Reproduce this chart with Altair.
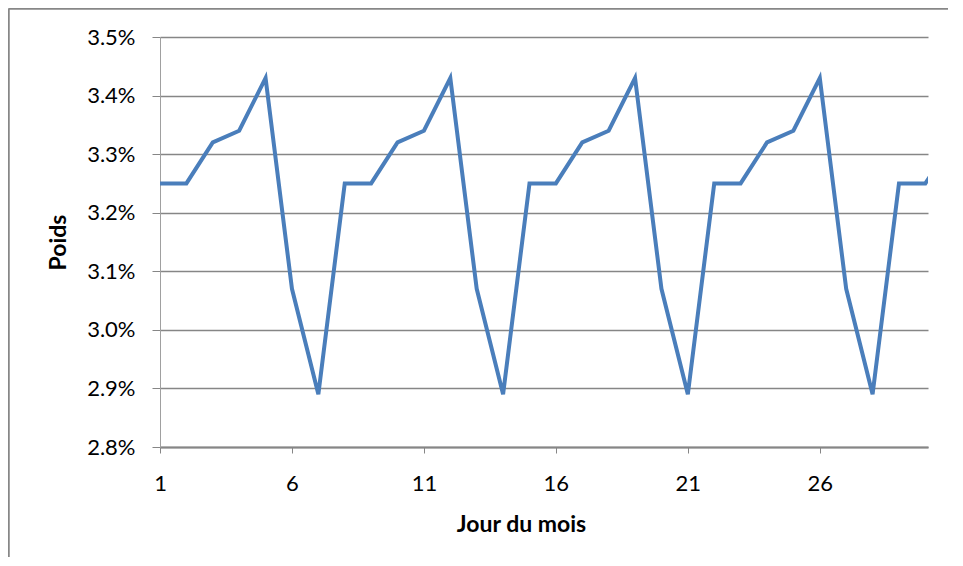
import altair as alt
import pandas as pd

days = list(range(1, 32))
poids = [3.25, 3.25, 3.32, 3.34, 3.43, 3.07, 2.89,
         3.25, 3.25, 3.32, 3.34, 3.43, 3.07, 2.89,
         3.25, 3.25, 3.32, 3.34, 3.43, 3.07, 2.89,
         3.25, 3.25, 3.32, 3.34, 3.43, 3.07, 2.89,
         3.25, 3.25, 3.32]
y_ticks = [2.8, 2.9, 3.0, 3.1, 3.2, 3.3, 3.4, 3.5]
x_ticks = [1, 6, 11, 16, 21, 26]

df = pd.DataFrame({"jour": days, "poids": [round(p / 100, 6) for p in poids]})
FONT = "Lato"
GRAY = "#868686"

line = alt.Chart(df).mark_line(color="#4a7ebb", strokeWidth=4, clip=True).encode(
    x=alt.X("jour:Q",
            scale=alt.Scale(domain=[1, 30.1], nice=False, zero=False),
            axis=alt.Axis(values=x_ticks, format="d", title="Jour du mois",
                          grid=False, domainColor=GRAY, domainWidth=2,
                          tickColor=GRAY, tickSize=6, tickWidth=1,
                          labelFont=FONT, labelFontSize=22, labelColor="#000000",
                          labelBaseline="middle", labelPadding=30,
                          labelFlush=False,
                          titleFont=FONT, titleFontSize=23, titleFontWeight="bold",
                          titleColor="#000000", titleX=361, titleY=84,
                          titleBaseline="alphabetic", titleAlign="center")),
    y=alt.Y("poids:Q",
            scale=alt.Scale(domain=[0.028, 0.035], nice=False, zero=False),
            axis=alt.Axis(values=[round(v / 100, 6) for v in y_ticks], format=".1%",
                          title="Poids",
                          grid=True, gridColor=GRAY, gridWidth=1.5,
                          domainColor="#a0a0a0", domainWidth=1,
                          tickColor=GRAY, tickSize=8, tickWidth=1,
                          labelFont=FONT, labelFontSize=22, labelColor="#000000",
                          labelPadding=17, labelFlush=False,
                          titleFont=FONT, titleFontSize=23, titleFontWeight="bold",
                          titleColor="#000000", titleX=-102, titleY=205,
                          titleBaseline="middle", titleAlign="center", titleAngle=270)),
)

frame_df = pd.DataFrame({"a": [0]})
left_border = alt.Chart(frame_df).mark_rule(color="#878787", strokeWidth=2.5, clip=False).encode(
    x=alt.value(-151.5), y=alt.value(-28.5), y2=alt.value(700))
top_border = alt.Chart(frame_df).mark_rule(color="#878787", strokeWidth=2.5, clip=False).encode(
    x=alt.value(-151.5), x2=alt.value(900), y=alt.value(-28.5))

chart = alt.layer(left_border, top_border, line).properties(
    width=768, height=410,
    padding={"left": 152, "top": 29, "right": 20, "bottom": 110},
    autosize=alt.AutoSizeParams(type="none"),
    background="#ffffff",
).configure_view(stroke=None)

chart.save("out.html", embed_options={"renderer": "svg", "actions": False})
